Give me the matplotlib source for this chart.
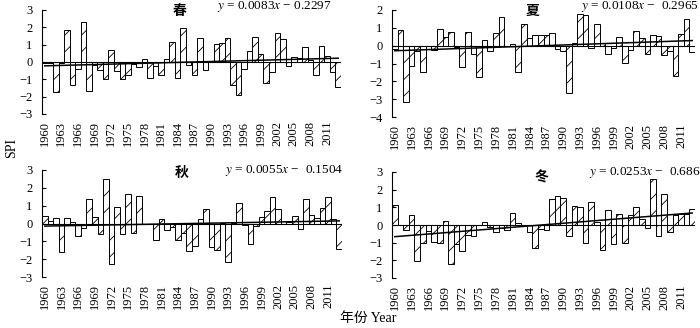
import numpy as np
import matplotlib.pyplot as plt

plt.rcParams['font.family'] = ['Liberation Serif', 'Noto Sans CJK SC']
plt.rcParams['mathtext.fontset'] = 'stix'
plt.rcParams['hatch.linewidth'] = 0.6

years = list(range(1960, 2014))

spring = [-0.03, -0.03, -1.73, -0.05, 1.83, -1.3, -0.38, 2.33, -1.65, -0.15,
          -0.46, -0.98, 0.68, -0.54, -1.0, -0.77, -0.1, -0.3, 0.18, -0.92,
          -0.25, -0.76, 0.16, 1.15, -0.91, 1.95, -0.15, -0.76, 1.38, -0.45,
          0.05, 1.05, 1.07, 1.37, -1.3, -1.88, -0.42, 0.62, 1.44, 0.46,
          -1.2, -0.6, 1.7, 1.32, -0.22, 0.3, 0.25, 0.85, 0.1, -0.75,
          0.9, 0.37, -0.6, -1.45]
summer = [-0.2, 0.87, -3.15, -1.15, -0.3, -1.45, -0.03, -0.25, 0.92, 0.47,
          0.74, -0.05, -1.2, 0.79, -0.45, -1.73, 0.29, -0.3, 0.71, 1.62,
          -0.03, 0.12, -1.5, 1.2, 0.45, 0.6, 0.6, 0.6, 0.73, -0.2,
          -0.3, -2.65, 0.15, 1.76, 1.71, -0.15, 1.22, 0.15, -0.45, -0.15,
          0.48, -0.97, -0.25, 0.85, 0.45, -0.45, 0.58, 0.52, -0.55, -0.3,
          -1.7, 0.65, 1.48, -0.35]
autumn = [0.4, 0.12, 0.3, -1.6, 0.3, 0.1, -0.72, -0.25, 1.38, 0.38,
          -0.6, 2.5, -2.28, 0.9, -0.6, 1.68, -0.52, 1.55, -0.05, -0.02,
          -0.95, 0.27, -0.37, -0.18, -0.95, -0.52, -1.55, -1.25, 0.28, 0.82,
          -1.32, -1.5, 0.03, -2.15, 0.02, 1.15, -0.1, -1.15, -0.15, 0.38,
          0.68, 1.5, 0.8, -0.05, 0.1, 0.42, -0.3, 1.35, 0.45, 0.3,
          0.85, 1.5, 0.25, -1.45]
winter = [1.12, 0.0, -0.3, 0.55, -2.05, -1.02, -0.35, -0.97, -1.0, 0.25,
          -2.2, -1.1, -1.45, -0.55, -0.6, -0.02, 0.15, -0.1, -0.42, -0.18,
          -0.3, 0.7, 0.1, -0.05, -0.42, -1.3, -0.25, -0.3, 1.5, 1.65,
          1.55, -0.65, 1.1, 1.02, -1.0, 1.3, 0.15, -1.4, 0.85, -1.05,
          0.65, -1.0, 0.58, 1.0, 0.35, -0.15, 2.62, -0.6, 1.77, -0.42,
          0.55, 0.62, 0.65, 0.88]

seasons = ['春', '夏', '秋', '冬']
slopes = [0.0083, 0.0108, 0.0055, 0.0253]
intercepts = [-0.2297, -0.2965, -0.1504, -0.686]
equations = ['$y$ = 0.0083$x$ − 0.2297', '$y$ = 0.0108$x$ −  0.2965',
             '$y$ = 0.0055$x$ −  0.1504', '$y$ = 0.0253$x$ −  0.686']
ylims = [(-3, 3), (-4, 2), (-3, 3), (-3, 3)]

W, H = 700, 328
fig = plt.figure(figsize=(7, 3.28), dpi=100)

# axes boxes in pixels: left, top, right, bottom
boxes = [(42, 10, 341, 114), (392, 10, 695, 117),
         (42, 170, 342, 277), (392, 172, 695, 278)]
title_pos = [(180, 12), (533, 11), (182, 174), (541, 178)]
eq_pos = [(332, 6), (699, 6), (343, 170), (700, 172)]

x = np.arange(len(years))
for i, vals in enumerate([spring, summer, autumn, winter]):
    l, t, r, b = boxes[i]
    ax = fig.add_axes([l / W, 1 - b / H, (r - l) / W, (b - t) / H])
    ax.bar(x, vals, width=1.0, color='white', edgecolor='black',
           linewidth=0.7, hatch='//')
    trend = slopes[i] * (x + 1) + intercepts[i]
    ax.plot(x, trend, color='black', linewidth=1.1)
    ax.axhline(0, color='black', linewidth=0.8)
    ax.set_xlim(-0.5, len(years) - 0.5)
    ax.set_ylim(*ylims[i])
    ax.set_yticks(range(ylims[i][0], ylims[i][1] + 1))
    ax.set_xticks(x[::3])
    ax.set_xticklabels([str(y) for y in years[::3]], rotation=90)
    for s in ['top', 'right', 'bottom']:
        ax.spines[s].set_visible(False)
    ax.spines['left'].set_linewidth(0.8)
    ax.tick_params(axis='x', length=0, pad=5, labelsize=9)
    ax.tick_params(axis='y', direction='in', length=3, width=0.8, labelsize=9, pad=7)

    tx, ty = title_pos[i]
    fig.text(tx / W, 1 - ty / H, seasons[i], ha='center', va='center',
             fontsize=10, fontweight='bold')
    ex, ey = eq_pos[i]
    fig.text(ex / W, 1 - ey / H, equations[i], ha='right', va='center', fontsize=9.5)

fig.text(12 / W, 1 - 148 / H, 'SPI', rotation=90, ha='center', va='center', fontsize=10)
fig.text(368 / W, 1 - 318 / H, '年份 Year', ha='center', va='center', fontsize=10)

fig.savefig('out.png', dpi=100)
